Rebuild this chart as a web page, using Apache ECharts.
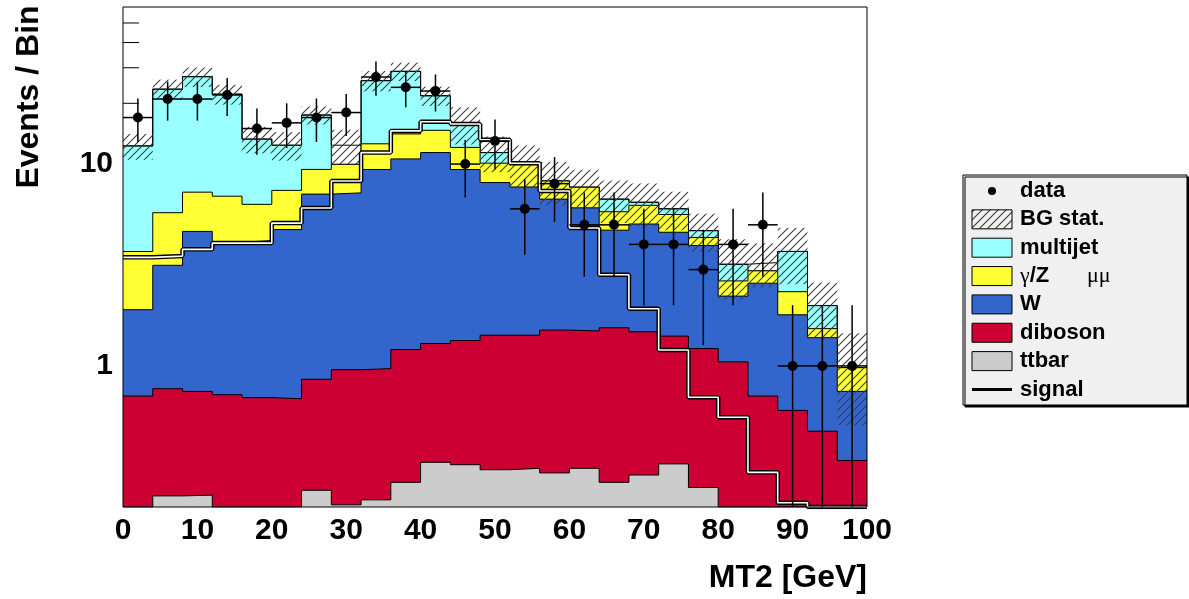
<!DOCTYPE html>
<html><head><meta charset="utf-8">
<script src="https://cdn.jsdelivr.net/npm/echarts@6/dist/echarts.min.js"></script>
<style>html,body{margin:0;padding:0;background:#fff}#c{width:1189px;height:599px}</style>
</head><body><div id="c"></div>
<script>
// ---------------- data ----------------
const binEdges   = [0,4,8,12,16,20,24,28,32,36,40,44,48,52,56,60,64,68,72,76,80,84,88,92,96,100];
const binCenters = [2,6,10,14,18,22,26,30,34,38,42,46,50,54,58,62,66,70,74,78,82,86,90,94,98];
const dataCounts = [17,21,21,22,15,16,17,18,27,24,23,10,13,6,8,5,5,4,4,3,4,5,1,1,1];
const ttbar    = [0,0.227,0.229,0.2,0,0,0.242,0.205,0.217,0.265,0.333,0.324,0.306,0.311,0.295,0.311,0.265,0.288,0.327,0.25,0,0,0,0,0];
const diboson  = [0.709,0.544,0.519,0.52,0.696,0.688,0.617,0.753,0.753,0.94,0.958,1.012,1.114,1.109,1.21,1.179,1.28,1.188,1.078,0.969,1.047,0.709,0.602,0.475,0.34];
const wjets    = [1.19,2.38,3.89,3.38,3.48,4.05,6.24,6.24,8.43,9.4,10.11,8.06,6.68,6.28,5.2,4.58,3.16,3.57,3.19,2.73,1.17,1.86,1.19,0.905,0.408];
const gammaZ   = [1.79,2.59,2.62,2.83,2.14,2.67,2.31,2.77,3.2,3.5,3.3,2.7,2.0,2.27,1.54,1.61,1.1,1.2,1.03,0.38,0.42,0.39,0.54,0.15,0.232];
const multijet = [8.61,17.76,19.84,15.27,6.98,4.99,8.09,0,13.3,14.7,7.1,3.7,1.3,0,0,0,0.9,0.22,0.38,0.35,0.55,0,1.36,0.46,0];
const bgTotal   = [12.3,23.5,27.1,22.2,13.3,12.4,17.5,12.4,25.9,28.8,21.8,15.8,11.4,9.97,8.24,7.68,6.7,6.47,6.0,4.68,3.19,3.25,3.69,1.99,0.98];
const bgStatErr = [1.8,2.7,3.0,2.5,2.0,2.0,1.8,2.4,3.0,3.0,2.4,3.3,2.3,2.4,2.0,1.7,1.6,1.55,1.3,1.0,1.05,0.8,1.15,0.6,0.47];
const signal   = [3.45,3.5,3.78,4.06,4.06,5.1,6.06,8.24,11.4,14.6,16.2,15.8,13.2,10.1,7.35,4.82,2.83,1.92,1.2,0.7,0.557,0.297,0.21,0,0];
const xTickValues = [0,10,20,30,40,50,60,70,80,90,100];
const yTickLabels = ['1','10'];
const yMajorTicks = [1,10];
const yMinorTicks = [0.3,0.4,0.5,0.6,0.7,0.8,0.9,2,3,4,5,6,7,8,9,20,30,40,50];
const yMin = 0.2, yMax = 60;

// ---------------- styling ----------------
const FONT = '"Liberation Sans", Arial, Helvetica, sans-serif';
const C = {multijet:'#99ffff', gammaZ:'#ffff33', W:'#3366cc', diboson:'#cc0033', ttbar:'#cccccc'};

const hatch = document.createElement('canvas');
hatch.width = 8; hatch.height = 8;
(function(){
  const g = hatch.getContext('2d');
  g.strokeStyle = '#3c3c3c'; g.lineWidth = 1.1;
  g.beginPath();
  g.moveTo(0,8); g.lineTo(8,0);
  g.moveTo(-1,1); g.lineTo(1,-1);
  g.moveTo(7,9); g.lineTo(9,7);
  g.stroke();
})();
const hatchFill = {image: hatch, repeat: 'repeat'};

// cumulative stack (bottom to top)
const layers = [ttbar, diboson, wjets, gammaZ, multijet];
const cum = [];
let run = binCenters.map(() => 0);
layers.forEach(arr => { run = run.map((v,i) => v + arr[i]); cum.push(run.slice()); });

function stepPoints(vals){
  return binEdges.map((x,i) => [x, Math.max(vals[Math.min(i, vals.length-1)], yMin)]);
}
function layerSeries(name, vals, color, z){
  return {
    type:'line', name, z, step:'end', symbol:'none', silent:true,
    data: stepPoints(vals),
    lineStyle:{color:'#000', width:1},
    areaStyle:{color, opacity:1, origin:'start'}
  };
}

const series = [
  {
    type:'custom', name:'yTicks', z:1, silent:true,
    data: yMajorTicks.concat(yMinorTicks).map(v => [0, v]),
    encode:{x:0, y:1},
    renderItem(p, api){
      const v = api.value(1);
      const pt = api.coord([api.value(0), v]);
      const len = yMajorTicks.indexOf(v) >= 0 ? 22 : 16;
      return {type:'line', shape:{x1:pt[0], y1:pt[1], x2:pt[0]+len, y2:pt[1]}, style:{stroke:'#000', lineWidth:1}};
    }
  },
  layerSeries('multijet', cum[4], C.multijet, 2),
  {type:'line', name:'BG total', z:3, step:'end', symbol:'none', silent:true, data: stepPoints(bgTotal), lineStyle:{color:'#000', width:1}},
  layerSeries('γ/Z', cum[3], C.gammaZ, 4),
  layerSeries('W', cum[2], C.W, 5),
  layerSeries('diboson', cum[1], C.diboson, 6),
  layerSeries('ttbar', cum[0], C.ttbar, 7),
  {
    type:'custom', name:'BG stat.', z:8, silent:true,
    data: bgTotal.map((t,i) => [binEdges[i], binEdges[i+1], t, bgStatErr[i]]),
    encode:{x:[0,1], y:2},
    renderItem(p, api){
      const t = api.value(2), e = api.value(3);
      const lo = Math.max(t - e, yMin), hi = Math.min(t + e, yMax);
      const a = api.coord([api.value(0), hi]), b = api.coord([api.value(1), lo]);
      return {type:'rect', shape:{x:a[0], y:a[1], width:b[0]-a[0], height:b[1]-a[1]}, style:{fill:hatchFill}};
    }
  },
  {type:'line', name:'signal', z:9, step:'end', symbol:'none', silent:true, data: stepPoints(signal), lineStyle:{color:'#000', width:4.5}},
  {type:'line', name:'signal ', z:10, step:'end', symbol:'none', silent:true, data: stepPoints(signal), lineStyle:{color:'#fff', width:1.6}},
  {
    type:'custom', name:'data', z:11, silent:true,
    data: dataCounts.map((n,i) => [binCenters[i], n, binEdges[i], binEdges[i+1]]),
    encode:{x:0, y:1},
    renderItem(p, api){
      const x = api.value(0), n = api.value(1), e = Math.sqrt(n);
      const c = api.coord([x, n]);
      const top = api.coord([x, Math.min(n + e, yMax)]);
      const bot = api.coord([x, Math.max(n - e, yMin)]);
      const l = api.coord([api.value(2), n]), r = api.coord([api.value(3), n]);
      const st = {stroke:'#000', lineWidth:1.5};
      return {type:'group', children:[
        {type:'line', shape:{x1:c[0], y1:top[1], x2:c[0], y2:bot[1]}, style:st},
        {type:'line', shape:{x1:l[0], y1:c[1], x2:r[0], y2:c[1]}, style:st},
        {type:'circle', shape:{cx:c[0], cy:c[1], r:5}, style:{fill:'#000'}}
      ]};
    }
  }
];

// ---------------- legend (drawn) ----------------
const legendItems = [
  {label:'data', kind:'dot'},
  {label:'BG stat.', kind:'hatch'},
  {label:'multijet', kind:'box', color:C.multijet},
  {label:'γ/Z', extra:'μμ', kind:'box', color:C.gammaZ},
  {label:'W', kind:'box', color:C.W},
  {label:'diboson', kind:'box', color:C.diboson},
  {label:'ttbar', kind:'box', color:C.ttbar},
  {label:'signal', kind:'line'}
];
const LG = {x:963, y:175, w:224, h:230, row0:191, dy:28.35, sx:972, sw:40, sh:19, tx:1020};
const graphic = [{
  type:'rect', z:100, shape:{x:LG.x, y:LG.y, width:LG.w, height:LG.h},
  style:{fill:'#f0f0f0', stroke:'#000', lineWidth:1, shadowColor:'#000', shadowOffsetX:2, shadowOffsetY:2, shadowBlur:0}
}];
legendItems.forEach((it, k) => {
  const cy = LG.row0 + k*LG.dy;
  if (it.kind === 'dot') graphic.push({type:'circle', z:101, shape:{cx:LG.sx+LG.sw/2, cy, r:4}, style:{fill:'#000'}});
  else if (it.kind === 'line') graphic.push({type:'line', z:101, shape:{x1:LG.sx, y1:cy, x2:LG.sx+LG.sw, y2:cy}, style:{stroke:'#000', lineWidth:3}});
  else graphic.push({type:'rect', z:101, shape:{x:LG.sx, y:cy-LG.sh/2, width:LG.sw, height:LG.sh},
        style:{fill: it.kind==='hatch' ? hatchFill : it.color, stroke:'#000', lineWidth:1}});
  if (it.extra) {
    graphic.push({type:'text', z:102, x:LG.tx, y:cy, style:{
      text:'{g|γ}{b|/Z}', verticalAlign:'middle', textVerticalAlign:'middle',
      rich:{g:{font:'22px "Liberation Serif", "DejaVu Serif", serif', fill:'#000'}, b:{font:'bold 22px '+FONT, fill:'#000'}}
    }});
    graphic.push({type:'text', z:102, x:1087, y:cy, style:{text:it.extra, font:'22px "Liberation Serif", "DejaVu Serif", serif', fill:'#000', verticalAlign:'middle', textVerticalAlign:'middle'}});
  } else {
    graphic.push({type:'text', z:102, x:LG.tx, y:cy, style:{text:it.label, font:'bold 22px '+FONT, fill:'#000', verticalAlign:'middle', textVerticalAlign:'middle'}});
  }
});
// axis titles
graphic.push({type:'text', z:102, x:29, y:97, rotation:Math.PI/2, style:{text:'Events / Bin', font:'bold 32px '+FONT, fill:'#000', align:'center', textAlign:'center', verticalAlign:'middle', textVerticalAlign:'middle'}});
graphic.push({type:'text', z:102, x:867, y:578, style:{text:'MT2 [GeV]', font:'bold 32px '+FONT, fill:'#000', align:'right', textAlign:'right', verticalAlign:'middle', textVerticalAlign:'middle'}});

const chart = echarts.init(document.getElementById('c'), null, {renderer:'canvas', width:1189, height:599});
chart.setOption({
  animation:false,
  backgroundColor:'#fff',
  grid:{left:123, right:322, top:7, bottom:92, show:true, z:50, borderColor:'#000', borderWidth:1, backgroundColor:'transparent'},
  xAxis:{type:'value', min:xTickValues[0], max:xTickValues[xTickValues.length-1], interval:10,
    axisLine:{show:false}, axisTick:{show:false}, splitLine:{show:false},
    axisLabel:{fontSize:30, fontWeight:'bold', fontFamily:FONT, color:'#000', margin:9,
      formatter: v => xTickValues.indexOf(v) >= 0 ? String(v) : ''}},
  yAxis:{type:'log', logBase:10, min:yMin, max:yMax,
    axisLine:{show:false}, axisTick:{show:false}, splitLine:{show:false}, minorTick:{show:false},
    axisLabel:{fontSize:30, fontWeight:'bold', fontFamily:FONT, color:'#000', margin:10, showMinLabel:false, showMaxLabel:false,
      formatter: v => { const s = String(Math.round(v)); const l = Math.log10(v); return (Math.abs(l-Math.round(l))<1e-6 && yTickLabels.indexOf(s)>=0) ? s : ''; }}},
  series,
  graphic
});
</script>
</body></html>
